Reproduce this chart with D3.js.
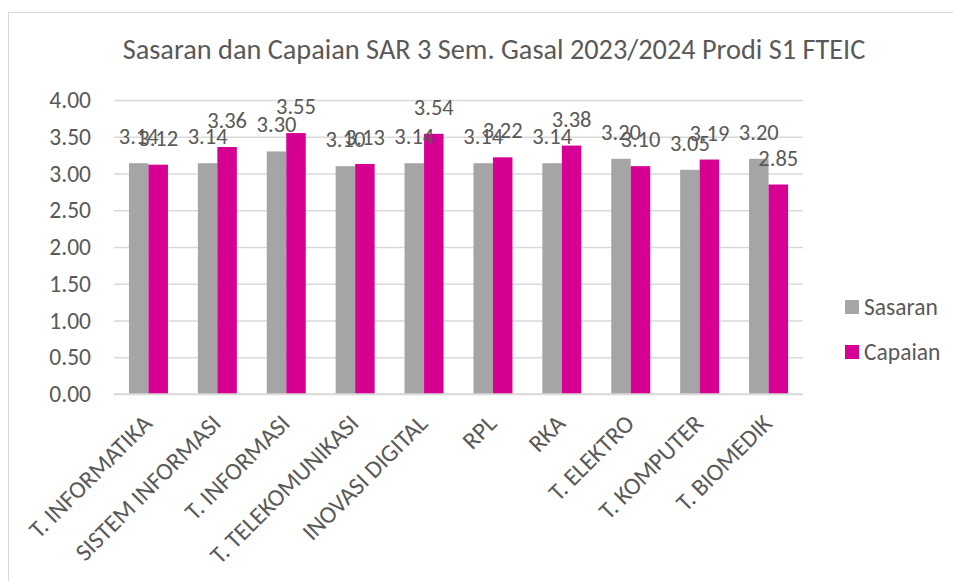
<!DOCTYPE html>
<html>
<head>
<meta charset="utf-8">
<script src="https://cdn.jsdelivr.net/npm/d3@7"></script>
<style>
  body { margin: 0; background: #fff; }
  svg text { font-family: Calibri, Carlito, Lato, sans-serif; fill: #595959; }
</style>
</head>
<body>
<div id="viz_container"></div>
<script>
// data
const categories = ["T. INFORMATIKA", "SISTEM INFORMASI", "T. INFORMASI", "T. TELEKOMUNIKASI",
  "INOVASI DIGITAL", "RPL", "RKA", "T. ELEKTRO", "T. KOMPUTER", "T. BIOMEDIK"];
const sasaran = [3.14, 3.14, 3.30, 3.10, 3.14, 3.14, 3.14, 3.20, 3.05, 3.20];
const capaian = [3.12, 3.36, 3.55, 3.13, 3.54, 3.22, 3.38, 3.10, 3.19, 2.85];
const seriesNames = ["Sasaran", "Capaian"];
const yTicks = [0, 0.5, 1, 1.5, 2, 2.5, 3, 3.5, 4];

const colors = {Sasaran: "#A5A5A5", Capaian: "#D60093"};

// dimensions
const W = 953, H = 581;
const plot = {left: 114, right: 803, top: 100, bottom: 394};

const svg = d3.select("#viz_container")
  .append("svg")
    .attr("width", W)
    .attr("height", H);

// chart frame
svg.append("rect")
  .attr("x", 8.5).attr("y", 12.5)
  .attr("width", 1000).attr("height", 1000)
  .attr("fill", "none")
  .attr("stroke", "#D9D9D9");

// title
svg.append("text")
  .attr("x", 494)
  .attr("y", 59)
  .attr("text-anchor", "middle")
  .style("font-size", "28.3px")
  .text("Sasaran dan Capaian SAR 3 Sem. Gasal 2023/2024 Prodi S1 FTEIC");

// scales
const x0 = d3.scaleBand()
  .domain(categories)
  .range([plot.left, plot.right])
  .paddingInner(0.434)
  .paddingOuter(0.217);

const x1 = d3.scaleBand()
  .domain(seriesNames)
  .range([0, x0.bandwidth()]);

const y = d3.scaleLinear()
  .domain([0, 4])
  .range([plot.bottom, plot.top]);

// grid lines
svg.append("g")
  .attr("transform", `translate(${plot.left},0)`)
  .call(d3.axisLeft(y).tickValues(yTicks).tickSize(-(plot.right - plot.left)).tickFormat(""))
  .call(g => g.select(".domain").remove())
  .call(g => g.selectAll("line").attr("stroke", "#D9D9D9").attr("stroke-width", 1.5));

// y axis labels
svg.append("g")
  .attr("transform", `translate(${plot.left - 23},0)`)
  .call(d3.axisLeft(y).tickValues(yTicks).tickSize(0).tickPadding(0).tickFormat(d3.format(".2f")))
  .call(g => g.select(".domain").remove())
  .call(g => g.selectAll("text")
    .attr("fill", "#595959")
    .style("font-size", "23.5px")
    .style("font-family", null));

// bars
const rows = categories.map((c, i) => ({cat: c, Sasaran: sasaran[i], Capaian: capaian[i]}));

const groups = svg.append("g")
  .selectAll("g")
  .data(rows)
  .join("g")
    .attr("transform", d => `translate(${x0(d.cat)},0)`);

groups.selectAll("rect")
  .data(d => seriesNames.map(k => ({key: k, value: d[k]})))
  .join("rect")
    .attr("x", d => x1(d.key))
    .attr("y", d => y(d.value))
    .attr("width", x1.bandwidth())
    .attr("height", d => y(0) - y(d.value))
    .attr("fill", d => colors[d.key]);

// data labels
groups.selectAll("text")
  .data(d => seriesNames.map(k => ({key: k, value: d[k]})))
  .join("text")
    .attr("x", d => x1(d.key) + x1.bandwidth() / 2)
    .attr("y", d => y(d.value) - 19)
    .attr("text-anchor", "middle")
    .style("font-size", "22.5px")
    .text(d => d3.format(".2f")(d.value));

// bottom axis line
svg.append("line")
  .attr("x1", plot.left).attr("x2", plot.right)
  .attr("y1", plot.bottom).attr("y2", plot.bottom)
  .attr("stroke", "#D9D9D9")
  .attr("stroke-width", 1.5);

// category labels, rotated
svg.append("g")
  .selectAll("text")
  .data(categories)
  .join("text")
    .attr("transform", d => `translate(${x0(d) + x0.bandwidth() / 2 + 5},${plot.bottom + 31}) rotate(-45)`)
    .attr("text-anchor", "end")
    .style("font-size", "24.5px")
    .text(d => d);

// legend
const legend = svg.append("g")
  .selectAll("g")
  .data(seriesNames)
  .join("g")
    .attr("transform", (d, i) => `translate(845,${300 + i * 45})`);

legend.append("rect")
  .attr("width", 14)
  .attr("height", 14)
  .attr("fill", d => colors[d]);

legend.append("text")
  .attr("x", 19)
  .attr("y", 7)
  .attr("dy", "0.35em")
  .style("font-size", "23.5px")
  .text(d => d);
</script>
</body>
</html>
